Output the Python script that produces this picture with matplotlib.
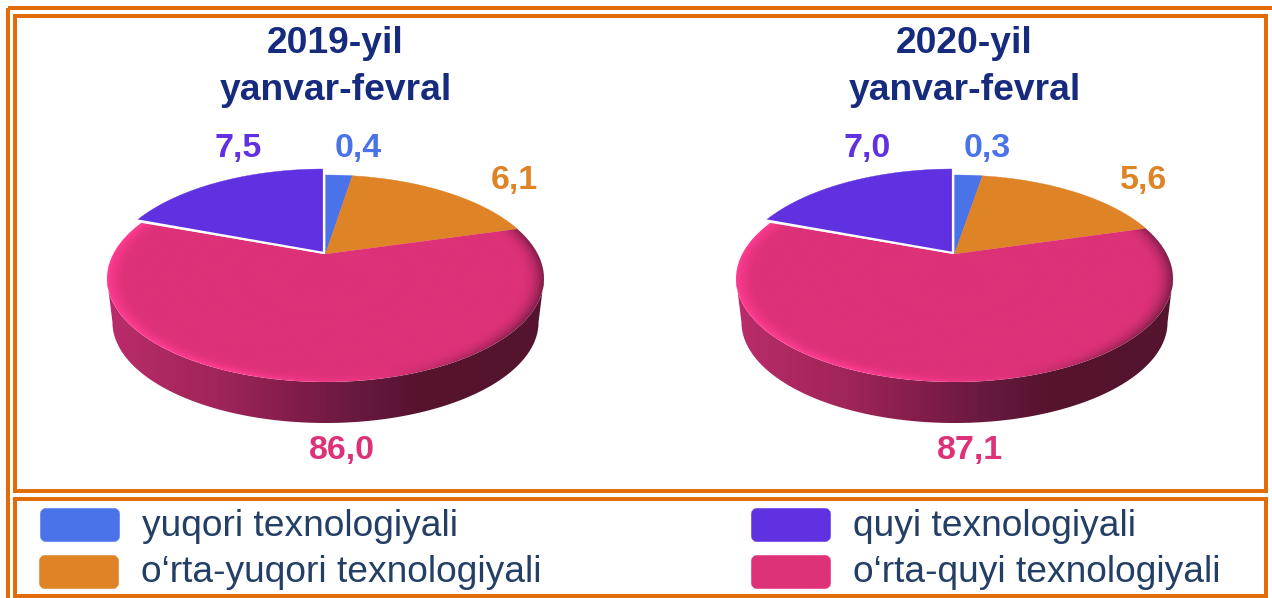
import numpy as np
import matplotlib
matplotlib.use("Agg")
import matplotlib.pyplot as plt
from matplotlib.patches import Polygon, Rectangle, FancyBboxPatch

plt.rcParams["font.family"] = ["Liberation Sans", "DejaVu Sans"]

# category order: clockwise from 12 o'clock
categories = ["yuqori texnologiyali", "o‘rta-yuqori texnologiyali",
              "o‘rta-quyi texnologiyali", "quyi texnologiyali"]
colors = ["#4A73EA", "#DE8326", "#DD3178", "#5F31E0"]

titles = ["2019-yil\nyanvar-fevral", "2020-yil\nyanvar-fevral"]
# printed labels
values_2019 = [0.4, 6.1, 86.0, 7.5]
values_2020 = [0.3, 5.6, 87.1, 7.0]
# the slices as drawn in the picture do not follow the labels, so read separately
slices_2019 = [2.5, 18.1, 60.0, 19.4]
slices_2020 = [2.6, 17.9, 60.1, 19.4]

NAVY = "#172B7E"
FRAME = "#E36C0A"
LEG_TXT = "#243F66"

# perspective of the disc, pixels: (C, A, K)
MAIN = (0.2367, 97.7, 212.3)
# the purple slice sits a little proud of the others
RAISED = (0.2075, 101.4, 213.7)
APEX_Y = 254
BOTTOM_Y = 423
WALL_SCALE = 0.975


def project(u, v, cx, persp=MAIN, apex_y=APEX_Y):
    c, a, k = persp
    w = 1 + c * v
    return cx + k * u / w, apex_y - a * v / w


def arc(cx, a0, a1, n=80, persp=MAIN, apex_y=APEX_Y):
    # angles in degrees, clockwise from top
    t = np.radians(np.linspace(a0, a1, n))
    return np.column_stack(project(np.sin(t), np.cos(t), cx, persp, apex_y))


def draw_pie(ax, cx, shares):
    edges = np.r_[0, np.cumsum(shares)] / np.sum(shares) * 360
    apex = np.array([[cx, APEX_Y]])
    rim = arc(cx, 0, 360, 720)
    rx = (rim[:, 0].max() - rim[:, 0].min()) / 2
    top, bot = rim[:, 1].min(), rim[:, 1].max()
    ry = (bot - top) / 2
    yc = (bot + top) / 2

    # side wall, bottom ring a bit smaller than the top one
    t = np.linspace(0, np.pi, 200)
    upper = np.column_stack([cx - rx * np.cos(t), yc + ry * np.sin(t)])
    ry2 = ry * WALL_SCALE
    lower = np.column_stack([cx - rx * WALL_SCALE * np.cos(t),
                             BOTTOM_Y - ry2 + ry2 * np.sin(t)])
    side = np.vstack([upper, lower[::-1]])
    stops_x = np.array([-1.0, -0.5, -0.12, 0.11, 0.43, 1.0])
    stops_c = np.array([[186, 44, 106], [160, 37, 88], [128, 28, 72],
                        [106, 26, 64], [86, 19, 47], [84, 19, 46]]) / 255
    xs = np.linspace(-1, 1, 400)
    grad = np.column_stack([np.interp(xs, stops_x, stops_c[:, i]) for i in range(3)])
    im = ax.imshow(grad[None, :, :], extent=(cx - rx, cx + rx, BOTTOM_Y, yc),
                   aspect="auto", zorder=2)
    clip = Polygon(side, closed=True, transform=ax.transData, fc="none", ec="none")
    ax.add_patch(clip)
    im.set_clip_path(clip)

    # top face
    polys = []
    for i, col in enumerate(colors):
        pts = np.vstack([apex, arc(cx, edges[i], edges[i + 1])])
        polys.append(pts)
        if i < 2:
            ax.add_patch(Polygon(pts, closed=True, fc=col, ec=col, lw=0.3, zorder=3))

    # pink slice carries the bevel: bright on lower left, dark on right rim
    yy, xx = np.mgrid[top:bot + 1, cx - rx:cx + rx + 1]
    dx = (xx - cx) / rx
    dy = (yy - yc) / ry
    rr = np.sqrt(dx ** 2 + dy ** 2)
    rim_f = np.clip((rr - 0.9) / 0.1, 0, 1) ** 2
    base = np.array([221, 49, 120]) / 255
    bright = np.array([255, 60, 145]) / 255
    dark = np.array([75, 18, 45]) / 255
    lit = np.clip(-1.2 * dx + 0.5, 0, 1)
    shade = np.clip(1.2 * dx - 0.3, 0, 1) * 0.7
    img = np.ones(xx.shape + (3,)) * base
    img = img + (rim_f * lit)[..., None] * (bright - base)
    img = img + (rim_f * shade)[..., None] * (dark - img)
    im2 = ax.imshow(np.clip(img, 0, 1), extent=(cx - rx, cx + rx, bot, top),
                    aspect="auto", zorder=3)
    clip2 = Polygon(polys[2], closed=True, transform=ax.transData, fc="none", ec="none")
    ax.add_patch(clip2)
    im2.set_clip_path(clip2)

    # purple slice, raised, with white seams
    px = cx - 1.5
    pts = np.vstack([[[px, APEX_Y - 1]],
                     arc(px, edges[3], edges[4], persp=RAISED, apex_y=APEX_Y - 1)])
    ax.add_patch(Polygon(pts, closed=True, fc=colors[3], ec=colors[3], lw=0.3, zorder=4))
    ax.plot([pts[1, 0], px, pts[-1, 0]], [pts[1, 1], APEX_Y - 1, pts[-1, 1]],
            color="white", lw=1.6, zorder=5, solid_capstyle="round", solid_joinstyle="round")


fig = plt.figure(figsize=(12.72, 5.98), dpi=100)
ax = fig.add_axes([0, 0, 1, 1])

# frames
frame_lw = 4 * 0.72
ax.add_patch(Rectangle((8, 8), 1300, 640, fc="none", ec=FRAME, lw=frame_lw, zorder=1))
ax.add_patch(Rectangle((15, 16), 1251, 475, fc="none", ec=FRAME, lw=frame_lw, zorder=1))
ax.add_patch(Rectangle((15, 499), 1251, 97, fc="none", ec=FRAME, lw=frame_lw, zorder=1))

pies = [(325.5, 335.5, slices_2019, values_2019, titles[0]),
        (954.5, 964.5, slices_2020, values_2020, titles[1])]
for cx, tx, shares, vals, title in pies:
    draw_pie(ax, cx, shares)
    ax.text(tx, 67, title, ha="center", va="center", fontsize=26.8, fontweight="bold",
            color=NAVY, linespacing=1.44)
    offs = [(33, 149), (189, 180), (16, 451), (-87, 149)]
    for (ox, oy), v, col in zip(offs, vals, colors):
        ax.text(cx + ox, oy, f"{v:.1f}".replace(".", ","), ha="center", va="center",
                fontsize=24.5, fontweight="bold", color=col)

# legend
leg_pos = [(40, 525), (39, 572), (751, 572), (751, 525)]
for (x, y), name, col in zip(leg_pos, categories, colors):
    ax.add_patch(FancyBboxPatch((x + 3, y - 14), 74, 28, boxstyle="round,pad=0,rounding_size=3",
                                mutation_aspect=1, fc=col, ec=col, lw=4, zorder=2))
    ax.text(x + 102, y + 1, name, ha="left", va="center", fontsize=26.7, color=LEG_TXT)

ax.set_xlim(0, 1272)
ax.set_ylim(598, 0)
ax.axis("off")

fig.savefig("out.png", dpi=100)
